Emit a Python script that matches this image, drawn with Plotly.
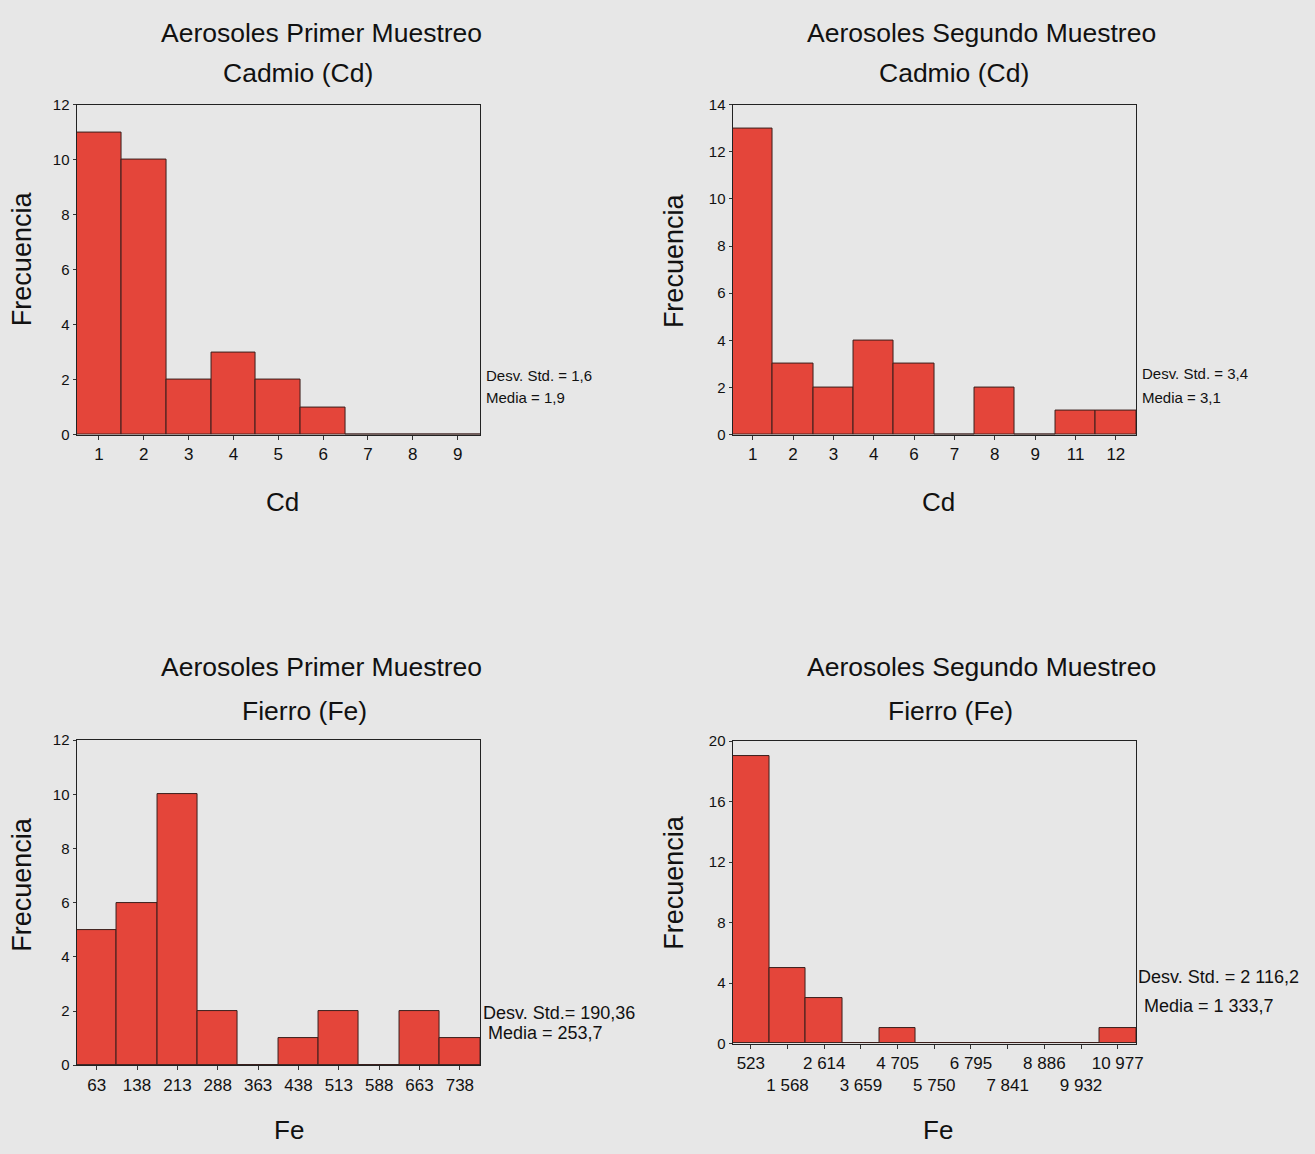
import plotly.graph_objects as go

# ---------------- data ----------------
cd1_cats = ["1", "2", "3", "4", "5", "6", "7", "8", "9"]
cd1_freq = [11, 10, 2, 3, 2, 1, 0, 0, 0]

cd2_cats = ["1", "2", "3", "4", "6", "7", "8", "9", "11", "12"]
cd2_freq = [13, 3, 2, 4, 3, 0, 2, 0, 1, 1]

fe1_cats = ["63", "138", "213", "288", "363", "438", "513", "588", "663", "738"]
fe1_freq = [5, 6, 10, 2, 0, 1, 2, 0, 2, 1]

fe2_cats = ["523", "1 568", "2 614", "3 659", "4 705", "5 750", "6 795",
            "7 841", "8 886", "9 932", "10 977"]
fe2_freq = [19, 5, 3, 0, 1, 0, 0, 0, 0, 0, 1]

titles_top = ["Aerosoles Primer Muestreo", "Aerosoles Segundo Muestreo",
              "Aerosoles Primer Muestreo", "Aerosoles Segundo Muestreo"]
titles_sub = ["Cadmio (Cd)", "Cadmio (Cd)", "Fierro (Fe)", "Fierro (Fe)"]
x_titles = ["Cd", "Cd", "Fe", "Fe"]
stats_std = ["Desv. Std. = 1,6", "Desv. Std. = 3,4", "Desv. Std.= 190,36", "Desv. Std. = 2 116,2"]
stats_mean = ["Media = 1,9", "Media = 3,1", "Media = 253,7", "Media = 1 333,7"]
y_max = [12, 14, 12, 20]
y_dtick = [2, 2, 2, 4]

# ---------------- layout helpers ----------------
W, H = 1315, 1154
BG = "#e7e7e7"
BAR = "#e4453a"
INK = "#111111"
FONT = "Liberation Sans, Arial, sans-serif"


def px_x(v):
    return v / W


def px_y(v):
    return 1 - v / H


panels = [
    dict(x0=77, x1=483, y0=97, y1=432),
    dict(x0=737, x1=1143, y0=97, y1=432),
    dict(x0=77, x1=483, y0=742, y1=1072),
    dict(x0=737, x1=1143, y0=743, y1=1050),
]
# text positions (pixels)
top_title_pos = [(323, 24), (988, 24), (323, 668), (988, 668)]
sub_title_pos = [(300, 65), (960, 65), (306, 712), (956, 712)]
ylab_pos = [(22, 253), (678, 255), (22, 888), (678, 886)]
xlab_pos = [(284, 500), (944, 500), (291, 1138), (944, 1138)]
std_pos = [(487, 372), (1147, 370), (484, 1019), (1143, 982)]
mean_pos = [(487, 394), (1147, 394), (489, 1039), (1149, 1012)]
stats_size = [15, 15, 18, 18]

cats = [cd1_cats, cd2_cats, fe1_cats, fe2_cats]
freqs = [cd1_freq, cd2_freq, fe1_freq, fe2_freq]

fig = go.Figure()
layout = dict(
    width=W, height=H, autosize=False,
    margin=dict(l=0, r=0, t=0, b=0, pad=0),
    paper_bgcolor=BG, plot_bgcolor=BG,
    showlegend=False, bargap=0,
    font=dict(family=FONT, color=INK),
)

annotations = []


def add_text(text, x, y, size, anchor="center", angle=0):
    annotations.append(dict(text=text, x=px_x(x), y=px_y(y),
                            xref="paper", yref="paper", showarrow=False,
                            xanchor=anchor, yanchor="middle", textangle=angle,
                            font=dict(size=size, family=FONT, color=INK)))


for i, (p, c, f) in enumerate(zip(panels, cats, freqs)):
    n = i + 1
    xa = "x" if n == 1 else f"x{n}"
    ya = "y" if n == 1 else f"y{n}"
    fig.add_trace(go.Bar(
        x=c, y=f, xaxis=xa, yaxis=ya,
        marker=dict(color=BAR, line=dict(color="#3a1f1c", width=1)),
        width=1.0, hoverinfo="x+y",
    ))
    if i == 3:
        ticktext = [t if k % 2 == 0 else "<br>" + t for k, t in enumerate(c)]
    else:
        ticktext = c
    layout[f"xaxis{'' if n == 1 else n}"] = dict(
        domain=[px_x(p["x0"]), px_x(p["x1"])], anchor=ya,
        type="category", categoryorder="array", categoryarray=c,
        tickmode="array", tickvals=c, ticktext=ticktext, tickangle=0,
        range=[-0.5, len(c) - 0.5],
        showline=True, linecolor="#222", linewidth=1, mirror=True,
        ticks="outside", ticklen=4, tickcolor="#333",
        tickfont=dict(size=17, family=FONT, color=INK),
        showgrid=False, zeroline=False, fixedrange=True,
    )
    layout[f"yaxis{'' if n == 1 else n}"] = dict(
        domain=[px_y(p["y1"]), px_y(p["y0"])], anchor=xa,
        range=[0, y_max[i]], dtick=y_dtick[i], tick0=0,
        showline=True, linecolor="#222", linewidth=1, mirror=True,
        ticks="outside", ticklen=3, tickcolor="#333",
        tickfont=dict(size=15, family=FONT, color=INK),
        showgrid=False, zeroline=False, fixedrange=True,
    )
    add_text(titles_top[i], *top_title_pos[i], size=26.5)
    add_text(titles_sub[i], *sub_title_pos[i], size=26.5)
    add_text("Frecuencia", *ylab_pos[i], size=27, angle=-90)
    add_text(x_titles[i], *xlab_pos[i], size=26)
    add_text(stats_std[i], *std_pos[i], size=stats_size[i], anchor="left")
    add_text(stats_mean[i], *mean_pos[i], size=stats_size[i], anchor="left")

layout["annotations"] = annotations
fig.update_layout(**layout)
fig.write_html(
    "out.html",
    config={"displayModeBar": False},
    post_script="document.body.style.margin='0';document.body.style.background='" + BG + "';",
)
